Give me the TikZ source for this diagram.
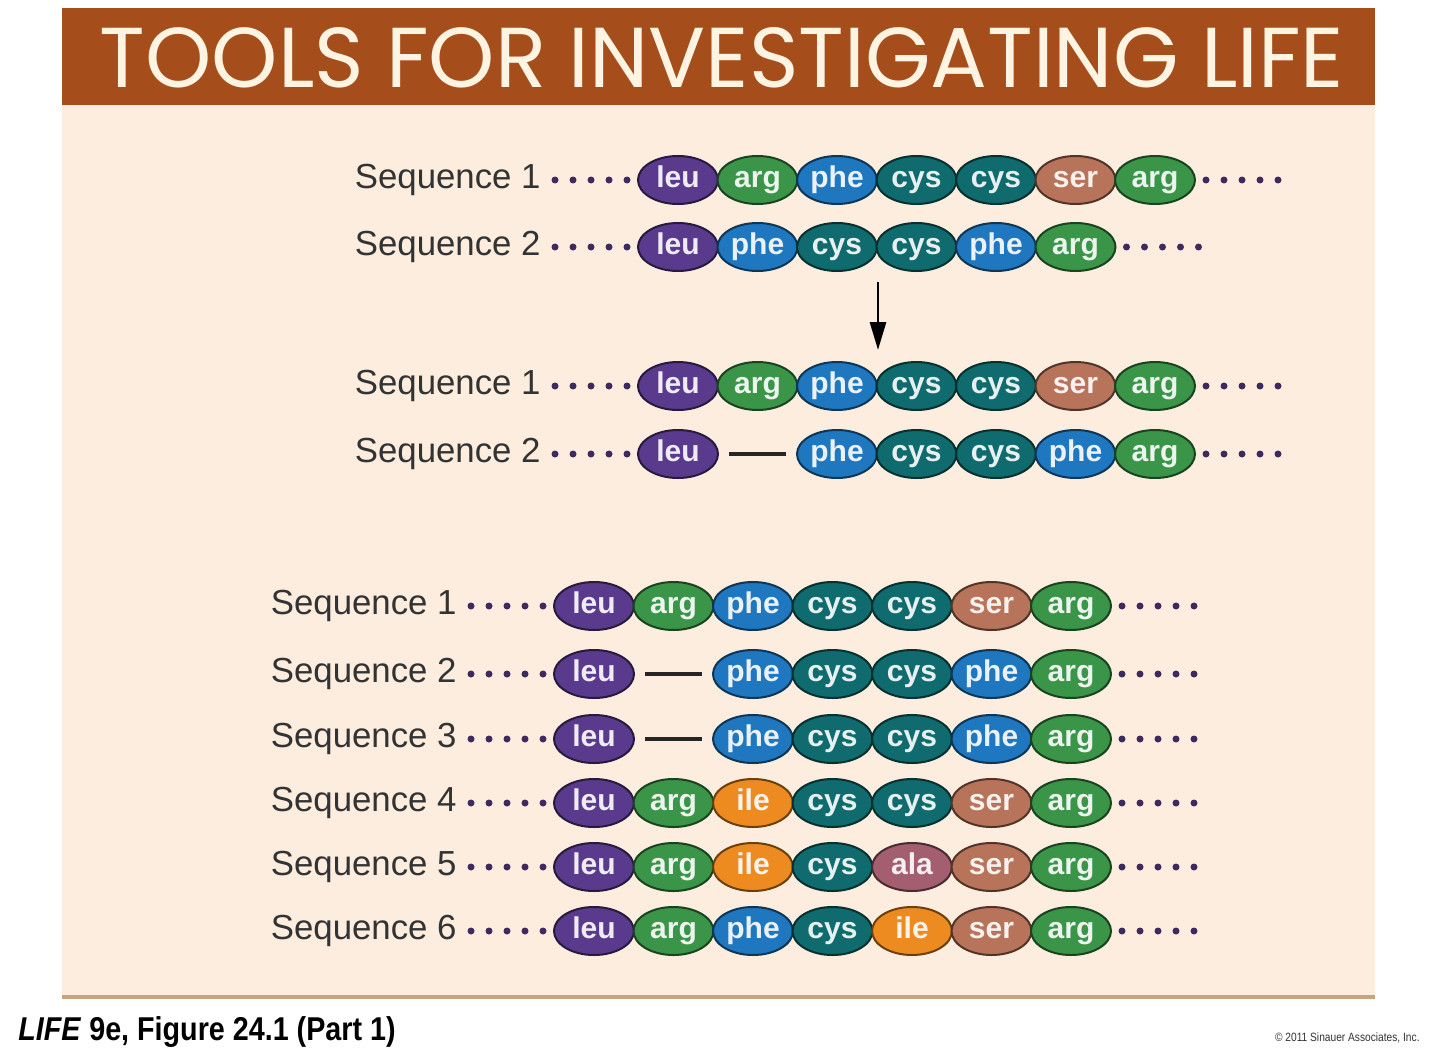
\documentclass[tikz,border=0pt]{standalone}
\usepackage{fontspec}
\usepackage{graphicx}
\setsansfont{Liberation Sans}
\newfontfamily\titlefont{Poppins}
\usetikzlibrary{arrows.meta}
\usetikzlibrary{shapes.geometric}
\definecolor{headbrown}{HTML}{A54E1C}
\definecolor{panelbeige}{HTML}{FCEDDF}
\definecolor{paneledge}{HTML}{C9A27E}
\definecolor{titlecream}{HTML}{FFF4E2}
\definecolor{labelgray}{HTML}{333333}
\definecolor{dotpurple}{HTML}{3F2A60}
\definecolor{leu}{HTML}{5A3A8C}
\definecolor{arg}{HTML}{3A9548}
\definecolor{phe}{HTML}{1E77BF}
\definecolor{cys}{HTML}{0F6B6D}
\definecolor{ser}{HTML}{B8745A}
\definecolor{ile}{HTML}{EE8B20}
\definecolor{ala}{HTML}{A35F70}
\tikzset{%
    amino/.style={ellipse, fill=#1, draw=#1!45!black, line width=1pt,
        minimum width=40pt, minimum height=24pt, inner sep=0pt,
        text=#1!10!white, font={\sffamily\bfseries\fontsize{15}{15}\selectfont}},
    seqlabel/.style={anchor=east, inner sep=0pt, text=labelgray,
        font={\sffamily\fontsize{17.4}{17.4}\selectfont}},
    seqdot/.style={fill=dotpurple},
    gapdash/.style={line width=2pt, draw=black!85},
}
% one row: name, x of first oval, y, label, last position, position/amino list
\newcommand\seqrow[6]{%
    \node (#1lab) [seqlabel] at (#2-137,#3) {\vphantom{Sq}#4};
    \foreach \p/\aa in {#6}
        \node (#1\p) [amino=\aa] at ({#2+79.5*(\p-1)},#3) {\vphantom{lg}\aa};
    \foreach \k in {0,...,4} {
        \fill [seqdot] ([xshift=-5pt-\k*9pt]#11.west) circle (1.75pt);
        \fill [seqdot] ([xshift=5pt+\k*9pt]#1#5.east) circle (1.75pt);
    }
}

\begin{document}
\begin{tikzpicture}[x=0.5pt,y=-0.5pt]
\useasboundingbox (0,0) rectangle (1440,1054);
\fill [white] (0,0) rectangle (1440,1054);
\fill [panelbeige] (62,105) rectangle (1375,997);
\fill [headbrown] (62,8) rectangle (1375,105);
\draw [paneledge, line width=2pt] (62,997) -- (1375,997);
\node (title) [text=titlecream, inner sep=0pt] at (722,58)
    {\resizebox{622pt}{30pt}{\titlefont TOOLS FOR INVESTIGATING LIFE}};
% before alignment
\seqrow{ra}{678}{180}{Sequence 1}{7}{1/leu,2/arg,3/phe,4/cys,5/cys,6/ser,7/arg}
\seqrow{rb}{678}{247}{Sequence 2}{6}{1/leu,2/phe,3/cys,4/cys,5/phe,6/arg}
\coordinate (arrtop) at (878,282);
\coordinate (arrbot) at (878,350);
\draw [line width=1.4pt, -{Triangle[length=14pt,width=8pt]}] (arrtop) -- (arrbot);
% after alignment
\seqrow{rc}{678}{386}{Sequence 1}{7}{1/leu,2/arg,3/phe,4/cys,5/cys,6/ser,7/arg}
\seqrow{rd}{678}{454}{Sequence 2}{7}{1/leu,3/phe,4/cys,5/cys,6/phe,7/arg}
\draw [gapdash] ([xshift=5pt]rd1.east) -- ([xshift=-5pt]rd3.west);
% six sequences
\seqrow{s1}{594}{606}{Sequence 1}{7}{1/leu,2/arg,3/phe,4/cys,5/cys,6/ser,7/arg}
\seqrow{s2}{594}{674}{Sequence 2}{7}{1/leu,3/phe,4/cys,5/cys,6/phe,7/arg}
\seqrow{s3}{594}{739}{Sequence 3}{7}{1/leu,3/phe,4/cys,5/cys,6/phe,7/arg}
\seqrow{s4}{594}{803}{Sequence 4}{7}{1/leu,2/arg,3/ile,4/cys,5/cys,6/ser,7/arg}
\seqrow{s5}{594}{867}{Sequence 5}{7}{1/leu,2/arg,3/ile,4/cys,5/ala,6/ser,7/arg}
\seqrow{s6}{594}{931}{Sequence 6}{7}{1/leu,2/arg,3/phe,4/cys,5/ile,6/ser,7/arg}
\draw [gapdash] ([xshift=5pt]s21.east) -- ([xshift=-5pt]s23.west);
\draw [gapdash] ([xshift=5pt]s31.east) -- ([xshift=-5pt]s33.west);
% caption
\node (caption) [anchor=west, inner sep=0pt] at (18,1032)
    {\scalebox{0.87}[1]{\sffamily\bfseries\fontsize{16.5}{16.5}\selectfont
    \textit{LIFE} 9e, Figure 24.1 (Part 1)}};
\node (copyright) [anchor=east, inner sep=0pt, text=labelgray] at (1420,1038)
    {\scalebox{0.85}[1]{\sffamily\fontsize{6}{6}\selectfont \textcopyright\ 2011 Sinauer Associates, Inc.}};
\end{tikzpicture}
\end{document}
